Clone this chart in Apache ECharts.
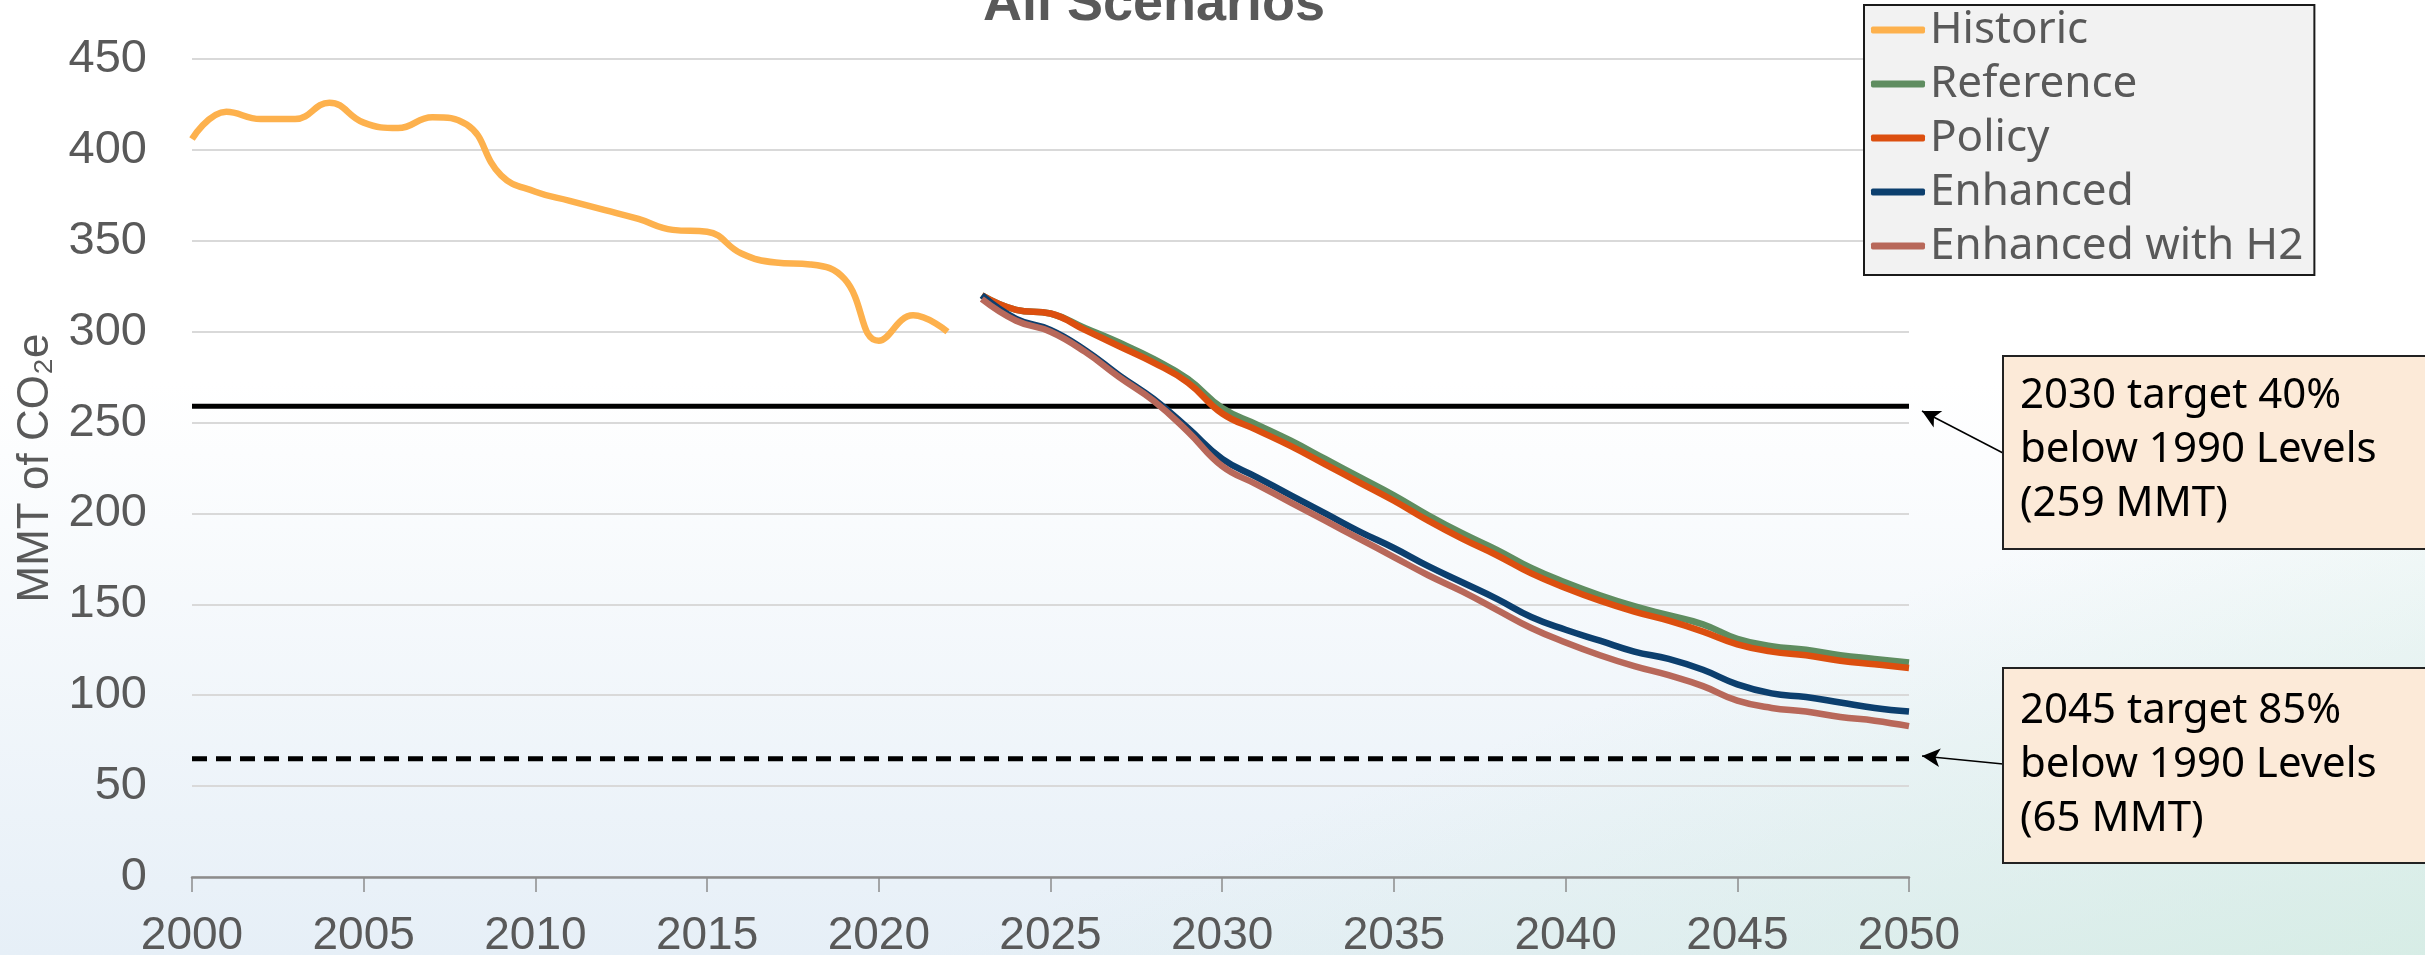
<!DOCTYPE html>
<html>
<head>
<meta charset="utf-8">
<script src="https://cdn.jsdelivr.net/npm/echarts@6/dist/echarts.min.js"></script>
<style>
  html, body { margin: 0; padding: 0; }
  #chart {
    width: 2425px;
    height: 955px;
    background:
      linear-gradient(160deg, rgba(255,255,255,0) 70%, rgba(210,236,224,0.75) 100%),
      linear-gradient(180deg, #ffffff 0%, #ffffff 40%, #e6eff7 100%);
  }
</style>
</head>
<body>
<div id="chart"></div>
<script>
// 数据
const histYears = [2000, 2001, 2002, 2003, 2004, 2005, 2006, 2007, 2008, 2009, 2010, 2011,
  2012, 2013, 2014, 2015, 2016, 2017, 2018, 2019, 2020, 2021, 2022];
const historic = [406, 421, 417, 417, 426, 415, 412, 418, 414, 386, 377, 372,
  367, 362, 356, 355, 343, 338, 337, 329, 295, 309, 300];

const scenYears = [2023, 2024, 2025, 2026, 2027, 2028, 2029, 2030, 2031, 2032, 2033, 2034,
  2035, 2036, 2037, 2038, 2039, 2040, 2041, 2042, 2043, 2044, 2045, 2046, 2047, 2048, 2049, 2050];
const reference = [320, 312, 310, 302, 294, 285, 274, 258, 249, 240, 230, 220,
  210, 199, 189, 180, 170, 162, 155, 149, 144, 139, 131, 127, 125, 122, 120, 118];
const policy = [320, 312, 310, 301, 292, 283, 272, 255, 246, 237, 227, 217,
  207, 196, 186, 177, 167, 159, 152, 146, 141, 135, 128, 124, 122, 119, 117, 115];
const enhanced = [320, 307, 301, 290, 276, 263, 247, 230, 220, 210, 200, 190,
  181, 171, 162, 153, 143, 136, 130, 124, 120, 114, 106, 101, 99, 96, 93, 91];
const enhancedH2 = [318, 306, 300, 289, 275, 262, 245, 226, 216, 206, 196, 186,
  176, 166, 157, 147, 137, 129, 122, 116, 111, 105, 97, 93, 91, 88, 86, 83];

const targetYears = [2000, 2050];
const target2030 = 259;
const target2045 = 65;

const seriesNames = ['Historic', 'Reference', 'Policy', 'Enhanced', 'Enhanced with H2'];
const seriesColors = ['#fdb14d', '#5f8d60', '#dc4f0f', '#0c3f6e', '#b8685a'];

const dom = document.getElementById('chart');
const myChart = echarts.init(dom, null, { renderer: 'canvas' });

const pairs = (xs, ys) => xs.map((x, i) => [x, ys[i]]);
const tickFont = 'Liberation Sans, Arial, sans-serif';
const textFont = 'Noto Sans, Lato, sans-serif';

let seriesArr = [];
// 目标线
seriesArr.push({
  name: 'target2030',
  type: 'line',
  data: targetYears.map(y => [y, target2030]),
  symbol: 'none',
  silent: true,
  lineStyle: { color: '#000', width: 5 },
  markLine: {
    silent: true,
    symbol: ['none', 'arrow'],
    symbolSize: [14, 18],
    label: { show: false },
    lineStyle: { color: '#000', width: 1.5, type: 'solid' },
    data: [[{ x: 2003, y: 453 }, { x: 1922, y: 411 }]]
  }
});
seriesArr.push({
  name: 'target2045',
  type: 'line',
  data: targetYears.map(y => [y, target2045]),
  symbol: 'none',
  silent: true,
  lineStyle: { color: '#000', width: 5, type: [15, 9] },
  markLine: {
    silent: true,
    symbol: ['none', 'arrow'],
    symbolSize: [14, 18],
    label: { show: false },
    lineStyle: { color: '#000', width: 1.5, type: 'solid' },
    data: [[{ x: 2003, y: 764 }, { x: 1922, y: 756 }]]
  }
});

const lists = [historic, reference, policy, enhanced, enhancedH2];
lists.forEach((vals, i) => {
  seriesArr.push({
    name: seriesNames[i],
    type: 'line',
    data: pairs(i === 0 ? histYears : scenYears, vals),
    symbol: 'none',
    smooth: 0.45,
    itemStyle: { color: seriesColors[i] },
    lineStyle: { color: seriesColors[i], width: 6.5 }
  });
});

const option = {
  animation: false,
  title: {
    text: 'All Scenarios',
    left: 983,
    top: -22,
    padding: 0,
    textStyle: { fontFamily: tickFont, fontWeight: 'bold', fontSize: 54, color: '#595959' }
  },
  legend: {
    data: seriesNames,
    orient: 'vertical',
    left: 1864,
    top: 5,
    padding: [3, 11, 7, 7],
    itemGap: 10,
    itemWidth: 54,
    itemHeight: 7,
    icon: 'roundRect',
    backgroundColor: '#f2f2f2',
    borderColor: '#1a1a1a',
    borderWidth: 2,
    textStyle: { fontFamily: textFont, fontSize: 44, color: '#595959' }
  },
  grid: { left: 192, right: 516, top: 59, bottom: 78, outerBoundsMode: 'none' },
  xAxis: {
    type: 'value',
    min: 2000,
    max: 2050,
    interval: 5,
    splitLine: { show: false },
    axisLine: { show: true, lineStyle: { color: '#8c8c8c', width: 2.5 } },
    axisTick: { show: true, length: 15, lineStyle: { color: '#8c8c8c', width: 1.5 } },
    axisLabel: {
      margin: 36,
      fontFamily: tickFont,
      fontSize: 46,
      color: '#595959',
      formatter: v => String(v)
    }
  },
  yAxis: {
    type: 'value',
    min: 0,
    max: 450,
    interval: 50,
    name: 'MMT of CO\u2082e',
    nameLocation: 'middle',
    nameGap: 131,
    nameTextStyle: { fontFamily: tickFont, fontSize: 44, color: '#595959' },
    axisLine: { show: false },
    axisTick: { show: false },
    splitLine: { lineStyle: { color: '#d9d9d9', width: 2 } },
    axisLabel: { margin: 45, fontFamily: tickFont, fontSize: 47, color: '#595959' }
  },
  graphic: [
    {
      type: 'rect',
      shape: { x: 2003, y: 356, width: 440, height: 193 },
      style: { fill: '#fcead8', stroke: '#222', lineWidth: 2 },
      z: 10
    },
    {
      type: 'text',
      x: 2020,
      y: 369,
      style: {
        text: '2030 target 40%\nbelow 1990 Levels\n(259 MMT)',
        font: '42px Noto Sans, sans-serif',
        fill: '#000',
        lineHeight: 54,
        verticalAlign: 'top'
      },
      z: 11
    },
    {
      type: 'rect',
      shape: { x: 2003, y: 668, width: 440, height: 195 },
      style: { fill: '#fcead8', stroke: '#222', lineWidth: 2 },
      z: 10
    },
    {
      type: 'text',
      x: 2020,
      y: 684,
      style: {
        text: '2045 target 85%\nbelow 1990 Levels\n(65 MMT)',
        font: '42px Noto Sans, sans-serif',
        fill: '#000',
        lineHeight: 54,
        verticalAlign: 'top'
      },
      z: 11
    }
  ],
  series: seriesArr
};

myChart.setOption(option);

window.addEventListener('resize', function () {
  myChart.resize();
});
</script>
</body>
</html>
